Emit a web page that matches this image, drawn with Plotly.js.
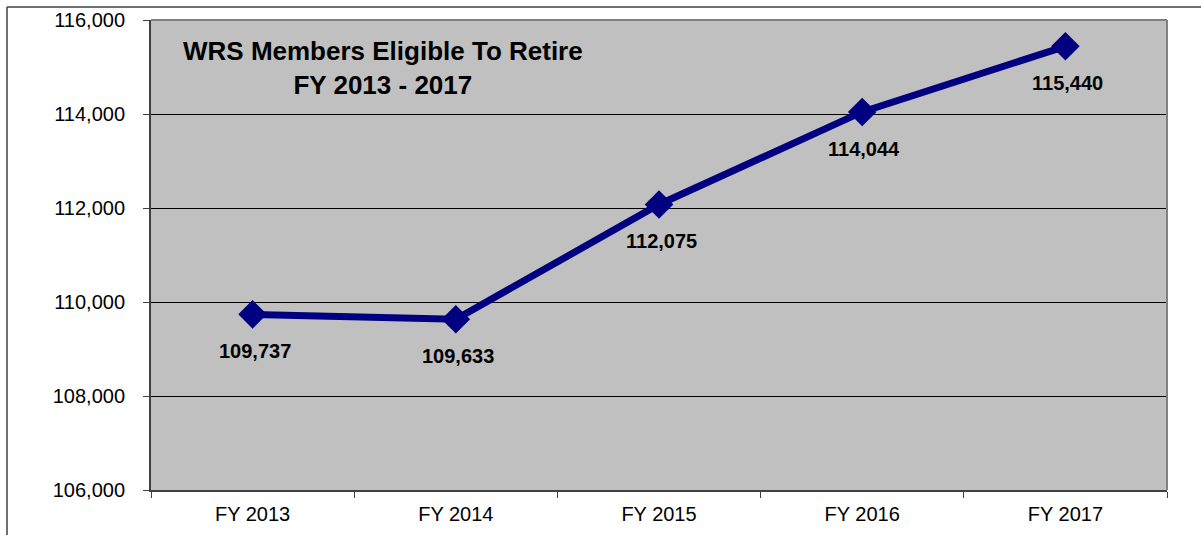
<!DOCTYPE html>
<html><head><meta charset="utf-8">
<script src="https://cdn.plot.ly/plotly-3.0.1.min.js"></script>
<style>html,body{margin:0;padding:0;background:#fff}#chart{width:1201px;height:535px}</style>
</head><body><div id="chart"></div>
<script>
const categories = ["FY 2013","FY 2014","FY 2015","FY 2016","FY 2017"];
const members = [109737,109633,112075,114044,115440];
const yTicks = [106000,108000,110000,112000,114000,116000];
const yTickText = ["106,000","108,000","110,000","112,000","114,000","116,000"];

const W=1201,H=535,L=151,R=34,T=20,B=45;
const pw=W-L-R, ph=H-T-B;
const px = v => (v-L)/pw;
const py = v => (H-B-v)/ph;
const FONT = 'Liberation Sans, Arial, sans-serif';

const trace = {
  x: categories, y: members, type:'scatter', mode:'lines+markers',
  line:{color:'#000080', width:7},
  marker:{symbol:'diamond', size:22, color:'#000080'},
  hoverinfo:'none'
};
const ann = members.map((v,i)=>({
  x: categories[i], y: v, xref:'x', yref:'y', showarrow:false,
  xanchor:'center', yanchor:'middle',
  text: '<b>'+v.toLocaleString('en-US')+'</b>', yshift:-37, xshift:2,
  font:{family:FONT, size:20, color:'#000'}
}));
ann.push({
  xref:'paper', yref:'paper', x:px(383), y:py(68), showarrow:false,
  xanchor:'center', yanchor:'middle',
  text:'<b>WRS Members Eligible To Retire<br>FY 2013 - 2017</b>',
  font:{family:FONT, size:26, color:'#000'},
  align:'center'
});
const layout = {
  width:W, height:H, margin:{l:L,r:R,t:T,b:B},
  paper_bgcolor:'#fff', plot_bgcolor:'#C0C0C0', showlegend:false,
  font:{family:FONT, size:20, color:'#000'},
  xaxis:{type:'category', range:[-0.5,4.5], tickson:'boundaries', ticks:'outside', ticklen:6,
    tickcolor:'#404040', showgrid:false, showline:true, linecolor:'#404040', linewidth:2,
    zeroline:false, fixedrange:true, tickfont:{size:20}, ticklabelstandoff:5},
  yaxis:{range:[106000,116000], tickvals:yTicks, ticktext:yTickText, ticks:'outside', ticklen:6,
    tickcolor:'#404040', showgrid:true, gridcolor:'#000', gridwidth:1, showline:true,
    linecolor:'#404040', linewidth:2, zeroline:false, fixedrange:true, ticklabelstandoff:14,
    tickfont:{size:20}},
  shapes:[
    {type:'line', xref:'paper', yref:'paper', x0:0, x1:1, y0:1, y1:1, line:{color:'#808080', width:2}},
    {type:'line', xref:'paper', yref:'paper', x0:1, x1:1, y0:0, y1:1, line:{color:'#808080', width:2}},
    {type:'line', xref:'paper', yref:'paper', x0:px(7), x1:px(1210), y0:py(7), y1:py(7), line:{color:'#404040', width:1.5}},
    {type:'line', xref:'paper', yref:'paper', x0:px(7), x1:px(7), y0:py(7), y1:py(545), line:{color:'#404040', width:1.5}}
  ],
  annotations: ann
};
Plotly.newPlot('chart',[trace],layout,{displayModeBar:false, staticPlot:true});
</script></body></html>
